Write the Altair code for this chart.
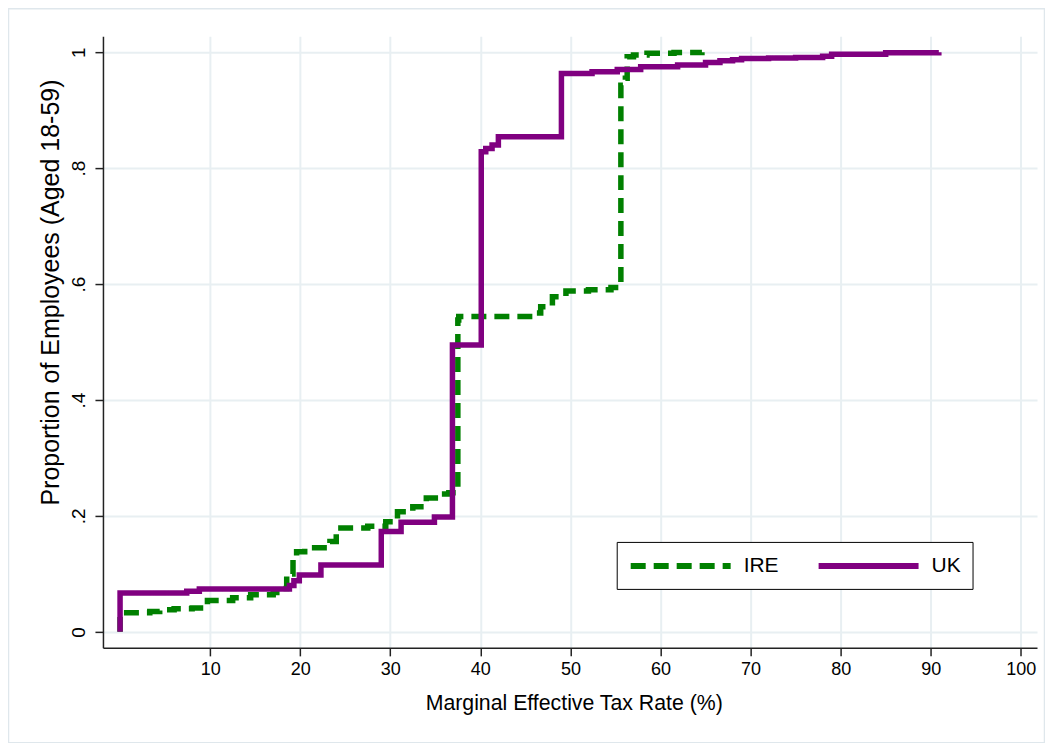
import altair as alt
import pandas as pd

# ---- data (marginal effective tax rate, cumulative share) ----
countries = ["IRE", "UK"]
line_colors = ["#008000", "#800080"]

uk_x = [0, 0, 7.4, 8.8, 18.8, 19.3, 19.9, 22.3, 29.0, 31.2, 34.9, 36.9, 40.1, 40.6, 41.3,
        42.0, 49.0, 52.4, 55.2, 57.8, 61.9, 65.0, 66.6, 68.0, 69.0, 72.0, 75.0, 78.0,
        79.0, 85.0, 90.9]
uk_p = [0.0, 0.067, 0.070, 0.074, 0.080, 0.088, 0.098, 0.1155, 0.173, 0.189, 0.198,
        0.495, 0.828, 0.834, 0.840, 0.854, 0.963, 0.966, 0.970, 0.975, 0.978, 0.982,
        0.985, 0.987, 0.989, 0.990, 0.991, 0.993, 0.9966, 0.9988, 1.0]

ire_x = [0, 0, 3.3, 4.4, 6.0, 8.0, 9.7, 12.5, 14.5, 17.0, 17.8, 18.5, 19.2, 19.6, 20.5,
         23.3, 24.0, 27.5, 29.5, 30.8, 32.5, 34.0, 35.0, 36.5, 37.5, 37.6, 45.8, 46.7,
         48.0, 49.5, 52.0, 54.5, 55.6, 56.1, 56.3, 57.0, 58.5, 61.5, 64.6]
ire_p = [0.0, 0.033, 0.035, 0.038, 0.040, 0.041, 0.054, 0.059, 0.064, 0.068, 0.075,
         0.100, 0.130, 0.138, 0.145, 0.156, 0.179, 0.182, 0.190, 0.207, 0.216, 0.231,
         0.238, 0.240, 0.538, 0.544, 0.550, 0.561, 0.578, 0.588, 0.590, 0.594, 0.943,
         0.955, 0.992, 0.995, 0.998, 0.9995, 1.0]

x_ticks = [10, 20, 30, 40, 50, 60, 70, 80, 90, 100]
y_ticks = [0, 0.2, 0.4, 0.6, 0.8, 1.0]

rows = []
for i, (a, b) in enumerate(zip(ire_x, ire_p)):
    rows.append({"country": "IRE", "mtr": a, "prop": b, "order": i})
for i, (a, b) in enumerate(zip(uk_x, uk_p)):
    rows.append({"country": "UK", "mtr": a, "prop": b, "order": i})
df = pd.DataFrame(rows)

FONT = "Liberation Sans"
W, H = 934.5, 612

legend = alt.Legend(
    title=None,
    orient="none",
    legendX=514,
    legendY=506,
    direction="horizontal",
    columns=2,
    padding=11,
    strokeColor="black",
    fillColor="white",
    symbolType="M-1,0H9",
    symbolSize=400,
    symbolStrokeWidth=6,
    labelOffset=90,
    columnPadding=27,
    labelFontSize=21,
    labelFont=FONT,
    labelColor="black",
)

lines = alt.Chart(df).mark_line(
    interpolate="step-after", strokeWidth=5.5, strokeCap="butt"
).encode(
    x=alt.X(
        "mtr:Q",
        scale=alt.Scale(domain=[-1.9, 101.8], nice=False, zero=False),
        axis=alt.Axis(
            values=x_ticks,
            title="Marginal Effective Tax Rate (%)",
            titleFontSize=21.3,
            titlePadding=14,
            titleX=471,
            labelFontSize=18,
            labelPadding=5,
            labelFlush=False,
        ),
    ),
    y=alt.Y(
        "prop:Q",
        scale=alt.Scale(domain=[-0.0276, 1.0276], nice=False, zero=False),
        axis=alt.Axis(
            values=y_ticks,
            title="Proportion of Employees (Aged 18-59)",
            titleFontSize=25,
            titlePadding=6,
            titleY=256,
            labelFontSize=19,
            labelAngle=270,
            labelAlign="center",
            labelBaseline="bottom",
            labelPadding=6,
            labelFlush=False,
            labelExpr="replace(format(datum.value, '.1~f'), '0.', '.')",
        ),
    ),
    color=alt.Color(
        "country:N",
        scale=alt.Scale(domain=countries, range=line_colors),
        legend=legend,
    ),
    strokeDash=alt.StrokeDash(
        "country:N",
        scale=alt.Scale(domain=countries, range=[[15, 8], [1, 0]]),
        legend=legend,
    ),
    order="order:Q",
)

frame = alt.Chart(pd.DataFrame({"k": [0]})).mark_rect(
    fill="transparent", stroke="#dfe7ec", strokeWidth=1.5
).encode(
    x=alt.value(-94.5), x2=alt.value(W + 7.5),
    y=alt.value(-27.5), y2=alt.value(H + 95),
)

chart = alt.layer(frame, lines).properties(
    width=W,
    height=H,
    padding={"left": 95, "top": 28, "right": 8, "bottom": 95},
    autosize=alt.AutoSizeParams(type="none"),
    background="white",
).configure_view(
    strokeWidth=0
).configure_axis(
    labelFont=FONT,
    titleFont=FONT,
    labelColor="black",
    titleColor="black",
    titleFontWeight="normal",
    domainColor="#222222",
    domainWidth=1.5,
    tickColor="#222222",
    tickWidth=1.5,
    tickSize=8,
    grid=True,
    gridColor="#e8eff2",
    gridWidth=2,
    labelOverlap=False,
)

chart.save("out.html", embed_options={"renderer": "svg", "actions": False})
